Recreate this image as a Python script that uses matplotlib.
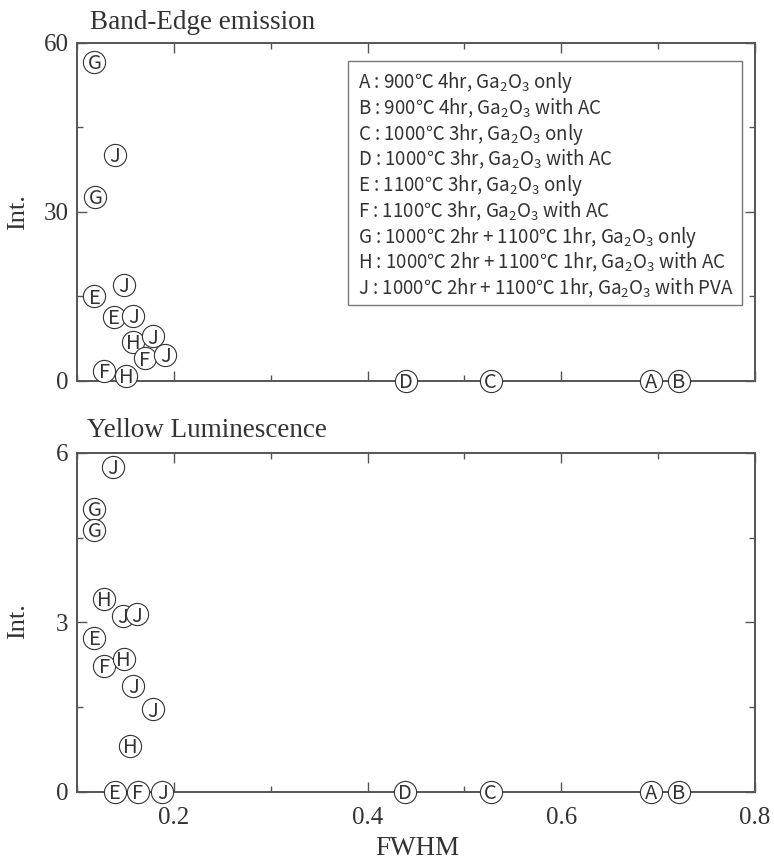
import matplotlib
matplotlib.use('Agg')
import matplotlib.pyplot as plt
import matplotlib.transforms as mtransforms
from matplotlib.patches import Rectangle
from matplotlib.ticker import MultipleLocator

plt.rcParams['mathtext.fontset'] = 'custom'
plt.rcParams['mathtext.rm'] = 'Noto Sans CJK JP'
plt.rcParams['mathtext.it'] = 'Noto Sans CJK JP'
plt.rcParams['mathtext.bf'] = 'Noto Sans CJK JP'

SERIF = 'Liberation Serif'
SANS = 'Noto Sans CJK JP'
INK = '#333333'
AXC = '#555555'

# Band-Edge emission: sample letter, FWHM, intensity
be_labels = ['G', 'J', 'G', 'E', 'J', 'E', 'J', 'H', 'J', 'F', 'J', 'F', 'H',
             'D', 'C', 'A', 'B']
be_fwhm = [0.118, 0.139, 0.119, 0.118, 0.148, 0.138, 0.158, 0.158, 0.178,
           0.170, 0.191, 0.128, 0.151, 0.440, 0.527, 0.693, 0.721]
be_int = [56.6, 40.1, 32.7, 15.0, 17.0, 11.4, 11.5, 7.0, 7.9, 4.0, 4.6,
          1.8, 0.9, 0, 0, 0, 0]

# Yellow luminescence
yl_labels = ['J', 'G', 'G', 'H', 'J', 'J', 'E', 'F', 'H', 'J', 'J', 'H',
             'E', 'F', 'J', 'D', 'C', 'A', 'B']
yl_fwhm = [0.137, 0.118, 0.118, 0.128, 0.147, 0.162, 0.118, 0.128, 0.148,
           0.158, 0.178, 0.155, 0.139, 0.163, 0.188, 0.439, 0.527, 0.693, 0.721]
yl_int = [5.75, 5.01, 4.64, 3.42, 3.12, 3.14, 2.73, 2.23, 2.35, 1.88, 1.46,
          0.81, 0, 0, 0, 0, 0, 0, 0]

legend_lines = [
    'A : 900℃ 4hr, Ga$_2$O$_3$ only',
    'B : 900℃ 4hr, Ga$_2$O$_3$ with AC',
    'C : 1000℃ 3hr, Ga$_2$O$_3$ only',
    'D : 1000℃ 3hr, Ga$_2$O$_3$ with AC',
    'E : 1100℃ 3hr, Ga$_2$O$_3$ only',
    'F : 1100℃ 3hr, Ga$_2$O$_3$ with AC',
    'G : 1000℃ 2hr + 1100℃ 1hr, Ga$_2$O$_3$ only',
    'H : 1000℃ 2hr + 1100℃ 1hr, Ga$_2$O$_3$ with AC',
    'J : 1000℃ 2hr + 1100℃ 1hr, Ga$_2$O$_3$ with PVA',
]

fig = plt.figure(figsize=(7.74, 8.59), dpi=100)
ax1 = fig.add_axes([0.0995, 0.5565, 0.8760, 0.3938])
ax2 = fig.add_axes([0.0995, 0.0780, 0.8760, 0.3950])


def style(ax, ymax, show_x):
    ax.set_xlim(0.1, 0.8)
    ax.set_ylim(0, ymax)
    ax.xaxis.set_major_locator(MultipleLocator(0.2))
    ax.xaxis.set_minor_locator(MultipleLocator(0.1))
    ax.yaxis.set_major_locator(MultipleLocator(ymax / 2))
    ax.yaxis.set_minor_locator(MultipleLocator(ymax / 4))
    ax.tick_params(which='both', direction='in', top=True, right=True,
                   color=AXC, width=1.0, labelcolor=INK, labelsize=18)
    ax.tick_params(which='major', length=7.5)
    ax.tick_params(which='minor', length=4.5)
    ax.tick_params(axis='y', pad=6)
    ax.tick_params(axis='x', pad=11, labelbottom=show_x)
    for lab in ax.get_xticklabels() + ax.get_yticklabels():
        lab.set_fontfamily(SERIF)
    for sp in ax.spines.values():
        sp.set_color(AXC)
        sp.set_linewidth(1.4)


def draw_points(ax, labels, xs, ys):
    shift = mtransforms.offset_copy(ax.transData, fig=fig, y=-5.2, units='points')
    for i, (lab, x, y) in enumerate(zip(labels, xs, ys)):
        z = 10 + 2 * i
        ax.scatter([x], [y], s=255, facecolor='white', edgecolor=INK,
                   linewidth=0.8, zorder=z, clip_on=False)
        ax.text(x, y, lab, transform=shift, ha='center', va='baseline',
                fontsize=14.5, family=SANS, color=INK, zorder=z + 1)


style(ax1, 60, False)
style(ax2, 6, True)
draw_points(ax1, be_labels, be_fwhm, be_int)
draw_points(ax2, yl_labels, yl_fwhm, yl_int)

# legend box in the top panel
ax1.add_patch(Rectangle((0.3997, 0.2247), 0.5813, 0.7221, transform=ax1.transAxes,
                        facecolor='white', edgecolor='#777777', linewidth=1.0, zorder=40))
for i, line in enumerate(legend_lines):
    ax1.text(0.4145, 0.8655 - 0.07626 * i, line, transform=ax1.transAxes,
             ha='left', va='baseline', fontsize=13.5, family=SANS, color=INK, zorder=41)

fig.text(0.1163, 0.9662, 'Band-Edge emission', family=SERIF, fontsize=19.5,
         color=INK, ha='left', va='baseline')
fig.text(0.1120, 0.4916, 'Yellow Luminescence', family=SERIF, fontsize=19.5,
         color=INK, ha='left', va='baseline')
fig.text(0.0233, 0.7532, 'Int.', family=SERIF, fontsize=19, color=INK,
         rotation=90, ha='center', va='center')
fig.text(0.0233, 0.2770, 'Int.', family=SERIF, fontsize=19, color=INK,
         rotation=90, ha='center', va='center')
fig.text(0.5388, 0.0050, 'FWHM', family=SERIF, fontsize=19.5, color=INK,
         ha='center', va='baseline')

fig.savefig('out.png', dpi=100)
